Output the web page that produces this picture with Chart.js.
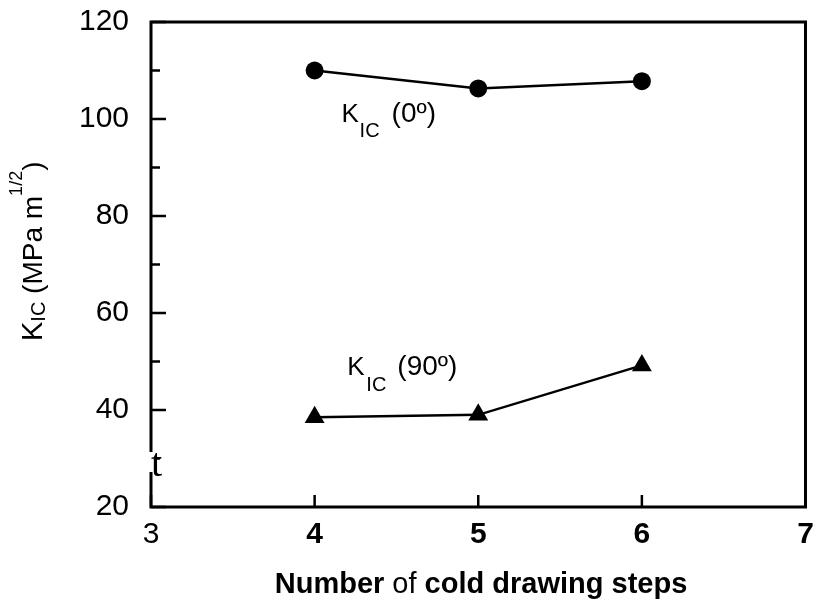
<!DOCTYPE html>
<html><head><meta charset="utf-8">
<script src="https://cdn.jsdelivr.net/npm/chart.js@4"></script>
<style>html,body{margin:0;padding:0;background:#fff}canvas{display:block}</style>
</head><body>
<canvas id="c" width="817" height="601"></canvas>
<script>
// ---- data ----
const xTickValues = [3, 4, 5, 6, 7];
const yTickValues = [20, 40, 60, 80, 100, 120];
const yMinorTickValues = [30, 50, 70, 90, 110];
const steps = [4, 5, 6];
const kic0 = [110.0, 106.3, 107.8];
const kic90 = [38.5, 39.0, 49.2];

const SANS = '"Liberation Sans", Arial, Helvetica, sans-serif';
const SERIF = '"Liberation Serif", "DejaVu Serif", "Times New Roman", serif';

function font(size, weight) { return (weight || 'normal') + ' ' + size + 'px ' + SANS; }

function drawRun(ctx, x0, y0, segs) {
  let x = x0;
  segs.forEach(s => {
    ctx.font = font(s.size, s.weight);
    if (s.dx !== undefined) x = x0 + s.dx;
    ctx.fillText(s.text, x, y0 + (s.dy || 0));
    x += ctx.measureText(s.text).width;
  });
}
function runWidth(ctx, segs) {
  let w = 0;
  segs.forEach(s => { ctx.font = font(s.size, s.weight); w += ctx.measureText(s.text).width; });
  return w;
}

const decor = {
  id: 'decor',
  beforeDatasetsDraw(chart) {
    const { ctx, chartArea: a, scales: { x, y } } = chart;
    ctx.save();
    ctx.strokeStyle = '#000';
    ctx.lineWidth = 3;
    ctx.lineJoin = 'miter';
    ctx.strokeRect(a.left, a.top, a.right - a.left, a.bottom - a.top);
    ctx.lineWidth = 2.5;
    ctx.beginPath();
    yTickValues.forEach(v => { const py = y.getPixelForValue(v); ctx.moveTo(a.left, py); ctx.lineTo(a.left + 15, py); });
    yMinorTickValues.forEach(v => { const py = y.getPixelForValue(v); ctx.moveTo(a.left, py); ctx.lineTo(a.left + 9, py); });
    xTickValues.forEach(v => { const px = x.getPixelForValue(v); ctx.moveTo(px, a.bottom); ctx.lineTo(px, a.bottom - 12); });
    ctx.stroke();
    // scan artifact on the left axis: a gap with a stray "t"
    ctx.fillStyle = '#fff';
    ctx.fillRect(a.left - 3, 452, 7, 20);
    ctx.fillStyle = '#000';
    ctx.font = '40px ' + SERIF;
    ctx.textAlign = 'left';
    ctx.textBaseline = 'alphabetic';
    ctx.fillText('t', a.left, 476);
    ctx.restore();
  },
  afterDraw(chart) {
    const { ctx, chartArea: a, scales: { x, y } } = chart;
    ctx.save();
    ctx.fillStyle = '#000';
    ctx.textAlign = 'left';
    ctx.textBaseline = 'alphabetic';

    const k0x = x.getPixelForValue(4.165), k0y = y.getPixelForValue(99.4);
    drawRun(ctx, k0x, k0y, [
      { text: 'K', size: 26, dx: 0 },
      { text: 'IC', size: 20, dx: 18, dy: 15 },
      { text: '(0º)', size: 28, dx: 50 }
    ]);
    const k9x = x.getPixelForValue(4.20), k9y = y.getPixelForValue(47.2);
    drawRun(ctx, k9x, k9y, [
      { text: 'K', size: 26, dx: 0 },
      { text: 'IC', size: 20, dx: 19, dy: 16 },
      { text: '(90º)', size: 28, dx: 50 }
    ]);

    const xs = [
      { text: 'Number ', size: 29, weight: 'bold' },
      { text: 'of', size: 29 },
      { text: ' cold drawing steps', size: 29, weight: 'bold' }
    ];
    const w = runWidth(ctx, xs);
    drawRun(ctx, 481 - w / 2, 593, xs);

    ctx.translate(42, 341);
    ctx.rotate(-Math.PI / 2);
    drawRun(ctx, 0, 0, [
      { text: 'K', size: 29 },
      { text: 'IC', size: 20, dy: 3 },
      { text: ' (MPa m', size: 28 },
      { text: '1/2', size: 18, dy: -20 },
      { text: ')', size: 28 }
    ]);
    ctx.restore();
  }
};

new Chart(document.getElementById('c'), {
  type: 'line',
  data: {
    datasets: [
      {
        label: 'KIC (0º)',
        data: steps.map((s, i) => ({ x: s, y: kic0[i] })),
        borderColor: '#000', backgroundColor: '#000', borderWidth: 2.5,
        pointStyle: 'circle', pointRadius: 9, pointBorderWidth: 0, pointBackgroundColor: '#000',
        tension: 0
      },
      {
        label: 'KIC (90º)',
        data: steps.map((s, i) => ({ x: s, y: kic90[i] })),
        borderColor: '#000', backgroundColor: '#000', borderWidth: 2.5,
        pointStyle: 'triangle', pointRadius: 11.5, pointBorderWidth: 0, pointBackgroundColor: '#000',
        tension: 0
      }
    ]
  },
  options: {
    responsive: false,
    animation: false,
    devicePixelRatio: 1,
    layout: { padding: { top: 22, right: 10, left: 0, bottom: 0 } },
    plugins: { legend: { display: false }, tooltip: { enabled: false } },
    scales: {
      x: {
        type: 'linear', min: 3, max: 7,
        afterBuildTicks: s => { s.ticks = xTickValues.map(v => ({ value: v })); },
        afterFit: s => { s.height = 94; s.paddingLeft = 0; s.paddingRight = 0; },
        grid: { display: false, drawTicks: false },
        border: { display: false },
        ticks: {
          color: '#000', padding: 10, maxRotation: 0,
          font: ctx => ({ family: SANS, size: 30, weight: (ctx.tick && ctx.tick.value === 3) ? 'normal' : 'bold' })
        }
      },
      y: {
        type: 'linear', min: 20, max: 120,
        afterBuildTicks: s => { s.ticks = yTickValues.map(v => ({ value: v })); },
        afterFit: s => { s.width = 151; s.paddingTop = 0; s.paddingBottom = 0; },
        grid: { display: false, drawTicks: false },
        border: { display: false },
        ticks: { color: '#000', padding: 22, font: { family: SANS, size: 30 } }
      }
    }
  },
  plugins: [decor]
});
</script>
</body></html>
